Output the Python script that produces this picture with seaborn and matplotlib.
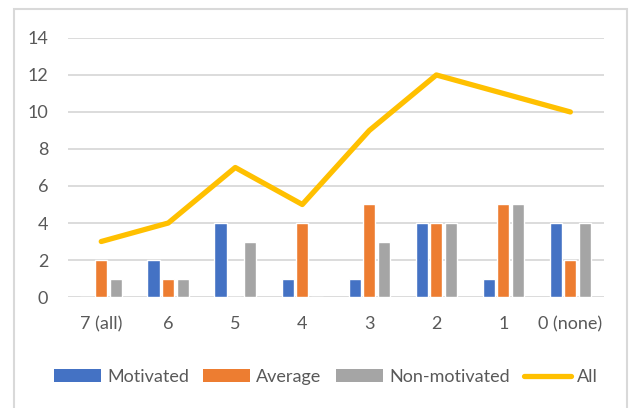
import pandas as pd
import numpy as np
import matplotlib
matplotlib.use("Agg")
import matplotlib.pyplot as plt
from matplotlib.patches import Rectangle, Patch
from matplotlib.lines import Line2D
import seaborn as sns

sns.set_theme(style="white")
plt.rcParams['font.family'] = ['Lato', 'DejaVu Sans']

categories = ["7 (all)", "6", "5", "4", "3", "2", "1", "0 (none)"]
motivated = [0, 2, 4, 1, 1, 4, 1, 4]
average = [2, 1, 0, 4, 5, 4, 5, 2]
non_motivated = [1, 1, 3, 0, 3, 4, 5, 4]
all_students = [3, 4, 7, 5, 9, 12, 11, 10]

groups = ["Motivated", "Average", "Non-motivated"]
colors = ["#4472C4", "#ED7D31", "#A5A5A5"]
line_color = "#FFC000"
text_color = "#595959"

df = pd.DataFrame({
    "category": categories * 3,
    "group": [g for g in groups for _ in categories],
    "value": motivated + average + non_motivated,
})

fig = plt.figure(figsize=(6.33, 4.08), dpi=100)
ax = fig.add_axes([0.107, 0.272, 0.847, 0.635])

sns.barplot(data=df, x="category", y="value", hue="group", order=categories,
            hue_order=groups, palette=colors, width=0.66, gap=0.18,
            saturation=1, ax=ax, legend=False)
sns.lineplot(x=np.arange(len(categories)), y=all_students, color=line_color,
             linewidth=3.8, ax=ax, solid_joinstyle="round",
             solid_capstyle="round")

ax.set_ylim(0, 14)
ax.set_yticks(range(0, 15, 2))
ax.set_xlim(-0.5, len(categories) - 0.5)
ax.set_xlabel("")
ax.set_ylabel("")
ax.grid(axis="y", color="#D9D9D9", linewidth=1.3)
ax.set_axisbelow(True)
for s in ax.spines.values():
    s.set_visible(False)
ax.tick_params(axis="both", length=0, labelsize=13, colors=text_color)
ax.tick_params(axis="x", pad=14)
ax.tick_params(axis="y", pad=14)

handles = [Patch(facecolor=c, edgecolor="none") for c in colors]
handles.append(Line2D([0], [0], color=line_color, linewidth=3.8,
                      solid_capstyle="round"))
leg = fig.legend(handles, groups + ["All"], loc="center", ncol=4,
                 bbox_to_anchor=(0.515, 1 - 377 / 408), frameon=False,
                 fontsize=13, handlelength=2.6, handleheight=0.75,
                 columnspacing=0.8, handletextpad=0.33, borderpad=0,
                 borderaxespad=0)
for t in leg.get_texts():
    t.set_color(text_color)

fig.patches.append(Rectangle((14 / 633, -0.02), 613 / 633, 1.0 - 9 / 408 + 0.02,
                             transform=fig.transFigure, fill=False,
                             edgecolor="#D9D9D9", linewidth=1.5))

fig.savefig("out.png", dpi=100)
